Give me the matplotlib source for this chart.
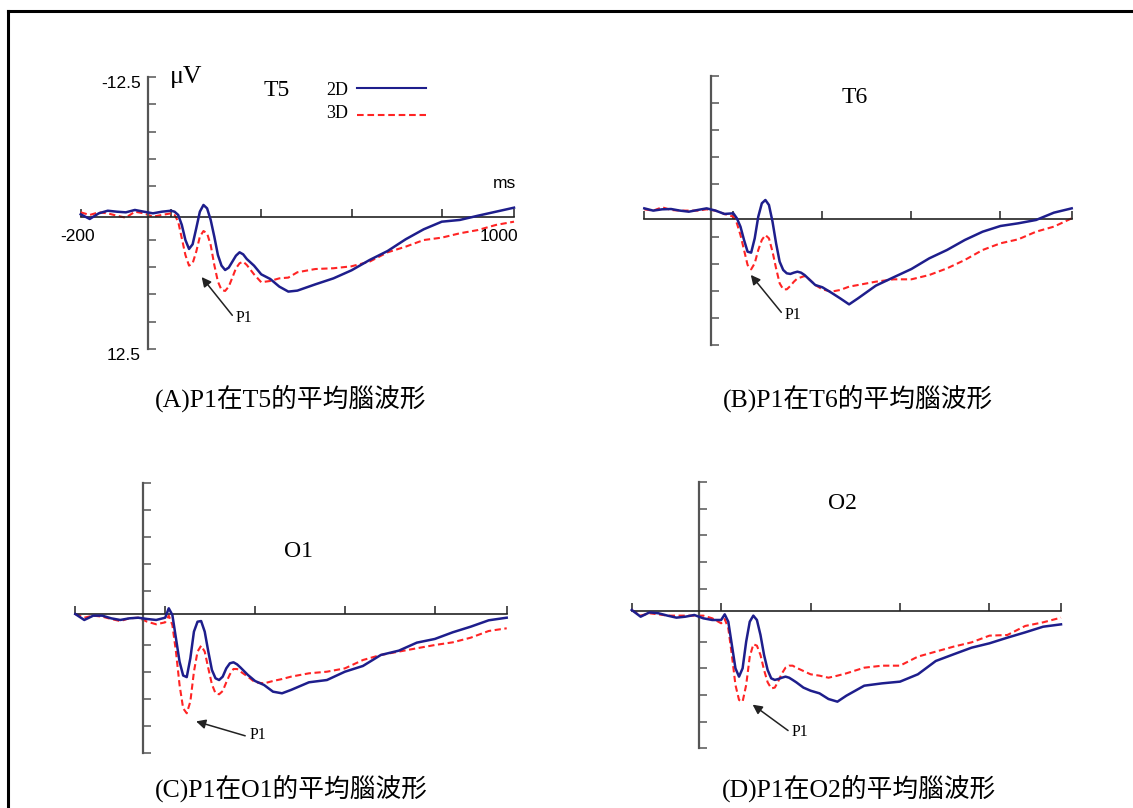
import matplotlib.pyplot as plt
from matplotlib.lines import Line2D

W, H = 1133, 808

# time axis (ms), shared by all four electrodes
t_ms = [-200, -175, -150, -125, -100, -75, -50, -25, 0, 25, 50,
        60, 70, 80, 90, 100, 110, 120, 130, 140, 150, 160, 170, 180, 190,
        200, 210, 220, 230, 240, 250, 260, 280, 300, 325, 350, 375, 400,
        450, 500, 550, 600, 650, 700, 750, 800, 850, 900, 950, 1000]

# amplitudes in uV (negative up)
t5_2d = [0.12, 0.55, 0.03, -0.21, -0.12, -0.06, -0.28, -0.12, 0.03, -0.12, -0.21,
         -0.12, 0.18, 1.10, 2.49, 3.31, 2.88, 1.41, -0.12, -0.74, -0.43, 0.64, 2.18, 3.87, 4.85,
         5.25, 5.03, 4.48, 3.93, 3.62, 3.81, 4.24, 4.85, 5.65, 6.08, 6.78, 7.24, 7.15,
         6.57, 6.02, 5.28, 4.33, 3.50, 2.42, 1.50, 0.80, 0.64, 0.25, -0.12, -0.49]
t5_3d = [-0.06, 0.18, -0.06, 0.03, 0.25, 0.43, -0.12, 0.03, 0.34, 0.18, 0.03,
         0.18, 0.80, 2.33, 3.87, 4.85, 4.63, 3.56, 2.18, 1.66, 1.87, 2.95, 4.79, 6.32, 7.09,
         7.18, 6.78, 5.95, 5.09, 4.63, 4.48, 4.79, 5.65, 6.38, 6.26, 6.02, 5.95, 5.46,
         5.16, 5.09, 4.91, 4.48, 3.62, 3.10, 2.49, 2.27, 1.87, 1.57, 1.10, 0.80]

t6_2d = [-0.19, 0.02, -0.10, -0.13, 0.02, 0.12, -0.04, -0.19, 0.02, 0.33, 0.27,
         0.74, 1.51, 2.75, 3.84, 3.93, 2.60, 0.58, -0.66, -0.97, -0.50, 1.05, 3.06, 4.77, 5.54,
         5.85, 5.91, 5.79, 5.70, 5.79, 6.01, 6.32, 6.94, 7.15, 7.65, 8.18, 8.74, 8.18,
         7.00, 6.22, 5.45, 4.46, 3.68, 2.75, 1.98, 1.45, 1.20, 0.89, 0.21, -0.19]
t6_3d = [-0.10, 0.02, -0.29, -0.04, 0.02, 0.02, 0.02, -0.10, 0.02, 0.33, 0.58,
         1.20, 2.29, 3.68, 5.08, 5.48, 4.92, 3.68, 2.75, 2.29, 2.60, 3.84, 5.39, 6.78, 7.34,
         7.34, 7.03, 6.63, 6.32, 6.22, 6.10, 6.32, 6.94, 7.34, 7.56, 7.40, 7.09, 6.94,
         6.63, 6.41, 6.41, 6.01, 5.39, 4.61, 3.68, 3.06, 2.69, 1.98, 1.51, 0.74]

o1_2d = [-0.34, 0.21, -0.19, -0.19, 0.06, 0.21, 0.06, 0.00, 0.12, 0.21, 0.00,
         -0.87, -0.25, 1.91, 4.07, 5.35, 5.50, 3.76, 1.29, 0.37, 0.31, 1.29, 3.14, 4.84, 5.61,
         5.77, 5.46, 4.69, 4.22, 4.13, 4.32, 4.63, 5.30, 5.86, 6.23, 6.85, 7.00, 6.69,
         5.98, 5.77, 5.00, 4.47, 3.45, 3.05, 2.31, 1.97, 1.35, 0.83, 0.24, 0.00]
o1_3d = [-0.34, 0.00, -0.19, -0.10, 0.12, 0.31, 0.06, 0.00, 0.37, 0.61, 0.43,
         -0.19, 0.67, 3.14, 6.23, 8.39, 8.85, 7.77, 5.00, 3.14, 2.59, 3.14, 4.69, 6.17, 7.00,
         7.09, 6.79, 5.98, 5.24, 4.75, 4.75, 5.00, 5.46, 5.98, 6.08, 5.86, 5.68, 5.46,
         5.15, 5.00, 4.69, 3.92, 3.45, 3.14, 2.83, 2.53, 2.28, 1.85, 1.23, 0.98]

o2_2d = [-0.49, 0.14, -0.27, -0.18, 0.04, 0.23, 0.14, -0.02, 0.29, 0.45, 0.45,
         -0.08, 0.61, 2.80, 4.99, 5.77, 4.99, 2.48, 0.61, 0.04, 0.45, 1.86, 3.74, 5.15, 5.93,
         6.08, 5.99, 5.87, 5.77, 5.87, 6.08, 6.30, 6.80, 7.09, 7.34, 7.87, 8.12, 7.56,
         6.62, 6.40, 6.24, 5.55, 4.30, 3.67, 3.05, 2.64, 2.11, 1.61, 1.08, 0.86]
o2_3d = [-0.49, 0.04, -0.18, -0.08, 0.04, 0.04, 0.04, 0.04, 0.04, 0.29, 0.76,
         0.36, 1.23, 3.74, 6.55, 7.96, 8.12, 6.55, 3.89, 2.73, 2.86, 3.74, 5.15, 6.30, 6.87,
         6.80, 6.18, 5.46, 4.93, 4.74, 4.74, 4.93, 5.24, 5.55, 5.68, 5.87, 5.68, 5.46,
         4.93, 4.74, 4.74, 3.89, 3.42, 2.95, 2.55, 1.92, 1.86, 1.01, 0.67, 0.23]

electrodes = ['T5', 'T6', 'O1', 'O2']
captions = ['(A)P1在T5的平均腦波形', '(B)P1在T6的平均腦波形',
            '(C)P1在O1的平均腦波形', '(D)P1在O2的平均腦波形']
y_ticks = [-12.5, -10, -7.5, -5, -2.5, 2.5, 5, 7.5, 10, 12.5]
x_ticks = [-200, 50, 300, 550, 800, 1000]

BLUE = '#1e1e8c'
RED = '#ff2424'
SERIF = 'Liberation Serif'
SANS = 'Liberation Sans'
CAP_FONT = ['Liberation Serif', 'Noto Sans CJK TC']


def box(x0, x1, y0, y1):
    return [x0 / W, 1 - y1 / H, (x1 - x0) / W, (y1 - y0) / H]


def ftext(x, y, s, **kw):
    return fig.text(x / W, 1 - y / H, s, **kw)


# pixel box, y-axis position (ms), x-axis level (uV), P1 arrow tip, P1 label pos,
# electrode label pos, caption pos
layout = [
    dict(box=box(80.7, 514, 77.3, 348.7), yax=-14.5, xax=0.4,
         tip=(135, 5.9), lab=(230, 9.7), name=(264, 96), cap=(291, 398)),
    dict(box=box(644.3, 1071.7, 76.0, 344.8), yax=-13, xax=0.83,
         tip=(99, 6.0), lab=(195, 9.75), name=(841.7, 103.3), cap=(858, 398)),
    dict(box=box(75.3, 506.7, 482.7, 752.7), yax=-12.5, xax=-0.31,
         tip=(136, 9.6), lab=(284, 10.9), name=(284, 557.3), cap=(291, 788)),
    dict(box=box(631.7, 1061, 482.1, 748.3), yax=-12.6, xax=-0.39,
         tip=(138, 8.4), lab=(248, 10.95), name=(828.3, 509.3), cap=(859, 788)),
]
series = [(t5_2d, t5_3d), (t6_2d, t6_3d), (o1_2d, o1_3d), (o2_2d, o2_3d)]

fig = plt.figure(figsize=(W / 100, H / 100), dpi=100)

for name, cap, (v2d, v3d), lay in zip(electrodes, captions, series, layout):
    ax = fig.add_axes(lay['box'])
    ax.patch.set_alpha(0)
    ax.set_xlim(-200, 1000)
    ax.set_ylim(12.5, -12.5)
    for s in ['top', 'right']:
        ax.spines[s].set_visible(False)
    ax.spines['left'].set_position(('data', lay['yax']))
    ax.spines['left'].set_color('#555555')
    ax.spines['left'].set_linewidth(1.6)
    ax.spines['bottom'].set_position(('data', lay['xax']))
    ax.spines['bottom'].set_color('#222222')
    ax.spines['bottom'].set_linewidth(1.2)
    ax.set_yticks(y_ticks)
    ax.set_xticks(x_ticks)
    ax.tick_params(direction='in', length=6, width=1.1,
                   labelleft=False, labelbottom=False)
    ax.tick_params(axis='y', colors='#555555')
    ax.tick_params(axis='x', colors='#222222')

    ax.plot(t_ms, v2d, color=BLUE, lw=1.8, clip_on=False, zorder=3)
    ax.plot(t_ms, v3d, color=RED, lw=1.5, ls=(0, (3.0, 1.7)),
            clip_on=False, zorder=2)

    ax.annotate('P1', xy=lay['tip'], xytext=lay['lab'], ha='left', va='center',
                fontsize=11.5, family=SERIF,
                arrowprops=dict(arrowstyle='-|>', color='#222222', lw=1.1,
                                mutation_scale=14, shrinkA=1, shrinkB=0,
                                relpos=(0, 0.4)))

    ftext(*lay['name'], name, fontsize=17, family=SERIF, va='baseline')
    ftext(*lay['cap'], cap, fontsize=18.5, family=CAP_FONT,
          ha='center', va='center')

# panel A axis labels
ftext(141, 84, '-12.5', fontsize=12.5, family=SANS, ha='right', va='center')
ftext(141, 355, '12.5', fontsize=12.5, family=SANS, ha='right', va='center')
ftext(78, 237, '-200', fontsize=12.5, family=SANS, ha='center', va='center')
ftext(499, 237, '1000', fontsize=12.5, family=SANS, ha='center', va='center')
ftext(504, 184, 'ms', fontsize=12.5, family=SANS, ha='center', va='center')
ftext(170, 82.7, 'μV', fontsize=18.5, family=SERIF, va='baseline')

# legend of panel A
ftext(326, 95, '2D', fontsize=13, family=SERIF, va='baseline')
ftext(326, 118.3, '3D', fontsize=13, family=SERIF, va='baseline')
fig.add_artist(Line2D([356.7 / W, 425.7 / W], [1 - 88.3 / H] * 2,
                      color=BLUE, lw=1.5))
fig.add_artist(Line2D([356.7 / W, 425.7 / W], [1 - 115 / H] * 2,
                      color=RED, lw=1.5, ls=(0, (3.2, 1.8))))

# page frame
fig.add_artist(Line2D([8 / W, 8 / W], [0, 1 - 11 / H], color='black', lw=2.2))
fig.add_artist(Line2D([8 / W, 1], [1 - 11 / H] * 2, color='black', lw=2.2))

fig.savefig('out.png', dpi=100)
